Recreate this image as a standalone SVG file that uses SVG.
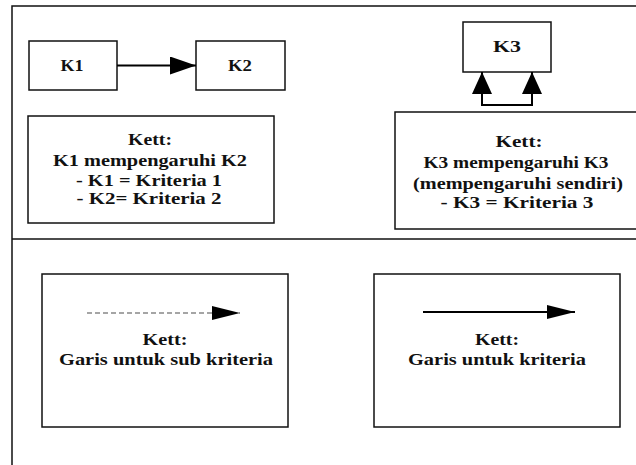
<svg xmlns="http://www.w3.org/2000/svg" width="636" height="465" viewBox="0 0 636 465">
<style>
.box{fill:#fff;stroke:#111;stroke-width:1.5}
.t{font-family:"Liberation Serif","Times New Roman",serif;font-weight:bold;font-size:16.5px;fill:#111;text-anchor:middle}
.ln{fill:none;stroke:#000;stroke-width:2}
.frame{fill:none;stroke:#111;stroke-width:1.5}
</style>
<defs>
<marker id="ah" markerWidth="26" markerHeight="18" refX="26" refY="9" orient="auto" markerUnits="userSpaceOnUse">
<path d="M0,0 L26,9 L0,18 Z" fill="#000"/>
</marker>
<marker id="ahs" markerWidth="28" markerHeight="14" refX="28" refY="7" orient="auto" markerUnits="userSpaceOnUse">
<path d="M0,0 L28,7 L0,14 Z" fill="#000"/>
</marker>
<marker id="ahu" markerWidth="22" markerHeight="20" refX="22" refY="10" orient="auto" markerUnits="userSpaceOnUse">
<path d="M0,0 L22,10 L0,20 Z" fill="#000"/>
</marker>
</defs>
<rect width="636" height="465" fill="#fff"/>
<g id="frame">
<path class="frame" d="M12,465 L12,6 L636,6"/>
<path class="frame" d="M12,239 L636,239"/>
</g>
<g id="K1"><rect class="box" x="29" y="41" width="88" height="49"/><text class="t" x="72" y="71" textLength="23" lengthAdjust="spacingAndGlyphs">K1</text></g>
<g id="K2"><rect class="box" x="196" y="41" width="89" height="49"/><text class="t" x="240" y="71" textLength="24" lengthAdjust="spacingAndGlyphs">K2</text></g>
<g id="K3"><rect class="box" x="463" y="22" width="88" height="50"/><text class="t" x="507" y="52" textLength="28" lengthAdjust="spacingAndGlyphs">K3</text></g>
<g id="legend1"><rect class="box" x="28" y="116" width="246" height="107"/>
<text class="t" x="150" y="145" textLength="44" lengthAdjust="spacingAndGlyphs">Kett:</text>
<text class="t" x="150" y="166" textLength="194" lengthAdjust="spacingAndGlyphs">K1 mempengaruhi K2</text>
<text class="t" x="149" y="186" textLength="146" lengthAdjust="spacingAndGlyphs">- K1 = Kriteria 1</text>
<text class="t" x="149" y="204" textLength="145" lengthAdjust="spacingAndGlyphs">- K2= Kriteria 2</text>
</g>
<g id="legend2"><rect class="box" x="395" y="112" width="250" height="117"/>
<text class="t" x="519" y="147" textLength="47" lengthAdjust="spacingAndGlyphs">Kett:</text>
<text class="t" x="516" y="168" textLength="185" lengthAdjust="spacingAndGlyphs">K3 mempengaruhi K3</text>
<text class="t" x="518" y="189" textLength="210" lengthAdjust="spacingAndGlyphs">(mempengaruhi sendiri)</text>
<text class="t" x="517" y="208" textLength="153" lengthAdjust="spacingAndGlyphs">- K3 = Kriteria 3</text>
</g>
<g id="legend3"><rect class="box" x="42" y="274" width="246" height="153"/>
<text class="t" x="165" y="345" textLength="45" lengthAdjust="spacingAndGlyphs">Kett:</text>
<text class="t" x="166" y="365" textLength="214" lengthAdjust="spacingAndGlyphs">Garis untuk sub kriteria</text>
</g>
<g id="legend4"><rect class="box" x="374" y="274" width="246" height="153"/>
<text class="t" x="497" y="345" textLength="44" lengthAdjust="spacingAndGlyphs">Kett:</text>
<text class="t" x="497" y="365" textLength="178" lengthAdjust="spacingAndGlyphs">Garis untuk kriteria</text>
</g>
<g id="connectors">
<line class="ln" x1="117" y1="65.5" x2="196" y2="65.5" marker-end="url(#ah)"/>
<path class="ln" d="M482,93 L482,105 L532,105 L532,93"/>
<line class="ln" x1="482" y1="94" x2="482" y2="72" marker-end="url(#ahu)"/>
<line class="ln" x1="532" y1="94" x2="532" y2="72" marker-end="url(#ahu)"/>
<line x1="87" y1="313" x2="240" y2="313" stroke="#888" stroke-width="1.5" stroke-dasharray="5,3" marker-end="url(#ahs)"/>
<line class="ln" x1="423" y1="312" x2="575" y2="312" marker-end="url(#ahs)"/>
</g>
</svg>
